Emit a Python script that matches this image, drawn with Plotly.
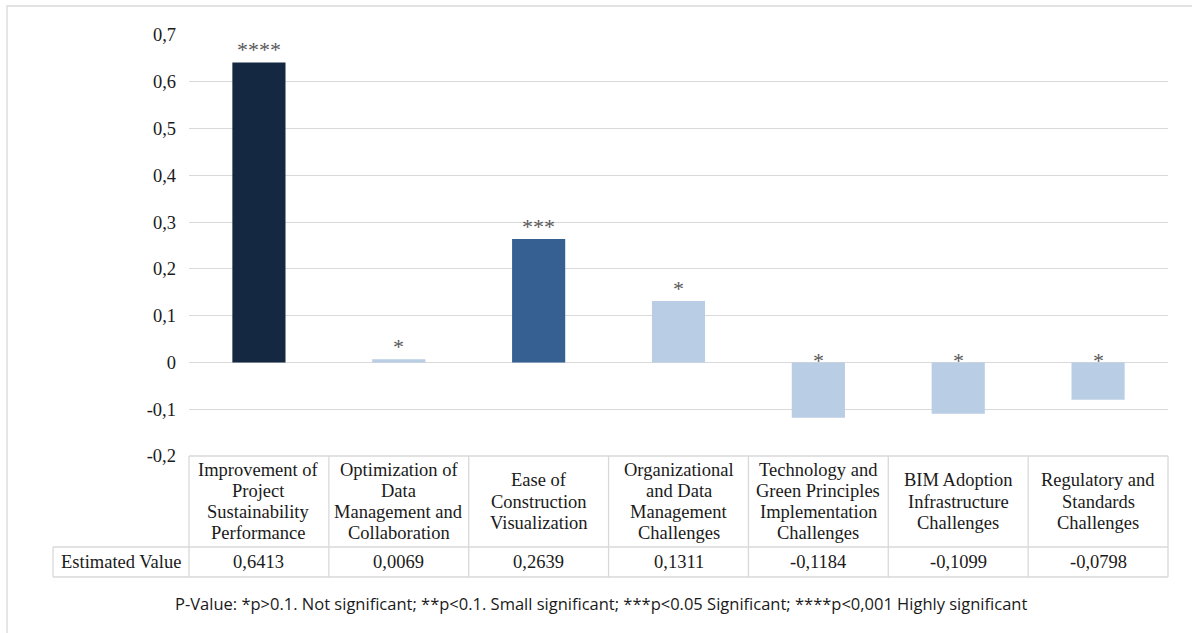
import plotly.graph_objects as go

# Factors and their estimated values
categories = [
    "Improvement of Project Sustainability Performance",
    "Optimization of Data Management and Collaboration",
    "Ease of Construction Visualization",
    "Organizational and Data Management Challenges",
    "Technology and Green Principles Implementation Challenges",
    "BIM Adoption Infrastructure Challenges",
    "Regulatory and Standards Challenges",
]
header_labels = [
    "Improvement of<br>Project<br>Sustainability<br>Performance",
    "Optimization of<br>Data<br>Management and<br>Collaboration",
    "Ease of<br>Construction<br>Visualization",
    "Organizational<br>and Data<br>Management<br>Challenges",
    "Technology and<br>Green Principles<br>Implementation<br>Challenges",
    "BIM Adoption<br>Infrastructure<br>Challenges",
    "Regulatory and<br>Standards<br>Challenges",
]
values = [0.6413, 0.0069, 0.2639, 0.1311, -0.1184, -0.1099, -0.0798]
significance = ["****", "*", "***", "*", "*", "*", "*"]

y_tick_vals = [-0.2, -0.1, 0, 0.1, 0.2, 0.3, 0.4, 0.5, 0.6, 0.7]
y_tick_text = ["-0,2", "-0,1", "0", "0,1", "0,2", "0,3", "0,4", "0,5", "0,6", "0,7"]

footnote = ("P-Value: *p>0.1. Not significant; **p<0.1. Small significant; "
            "***p<0.05 Significant; ****p<0,001 Highly significant")

# Bar colours by significance level
sig_colors = {"****": "#142841", "***": "#366092", "**": "#95B3D7", "*": "#B9CDE5"}
bar_colors = [sig_colors[s] for s in significance]

W, H = 1192, 633
ML, MR, MT, MB = 189, 24, 35, 177
PW, PH = W - ML - MR, H - MT - MB


def py(p):
    """pixel row -> paper y"""
    return (H - MB - p) / PH


def px(p):
    """pixel column -> paper x"""
    return (p - ML) / PW


serif = "Liberation Serif"
text_col = "#1A1A1A"
grid_col = "#D9D9D9"
fs = 18.5
n = len(categories)

fig = go.Figure(
    go.Bar(
        x=categories,
        y=values,
        marker=dict(color=bar_colors, line=dict(width=0)),
        hoverinfo="x+y",
    )
)

# table geometry (pixel rows / columns)
head_top, head_bottom, table_bottom, label_left = 456, 547, 577, 53
line_gap = 21.3
shapes = []
line = dict(color=grid_col, width=1.3)
# outer frame
shapes.append(dict(type="rect", xref="paper", yref="paper", x0=px(7), x1=px(W + 10),
                   y0=py(6), y1=py(H + 10), line=dict(color=grid_col, width=1.3)))
# horizontal rules of the data table
shapes.append(dict(type="line", xref="paper", yref="paper", x0=0, x1=1, y0=0, y1=0, line=line))
for row in (head_bottom, table_bottom):
    shapes.append(dict(type="line", xref="paper", yref="paper", x0=px(label_left), x1=1,
                       y0=py(row), y1=py(row), line=line))
# vertical rules: one per category boundary
for i in range(n + 1):
    shapes.append(dict(type="line", xref="paper", yref="paper", x0=i / n, x1=i / n,
                       y0=0, y1=py(table_bottom), line=line))
shapes.append(dict(type="line", xref="paper", yref="paper", x0=px(label_left), x1=px(label_left),
                   y0=py(head_bottom), y1=py(table_bottom), line=line))

annotations = []
head_mid = py((head_top + head_bottom) / 2)
value_mid = py((head_bottom + table_bottom) / 2)
for cat, lab, v, s in zip(categories, header_labels, values, significance):
    parts = lab.split("<br>")
    m = len(parts)
    for k, part in enumerate(parts):
        annotations.append(dict(x=cat, xref="x", y=head_mid, yref="paper",
                                yshift=-(k - (m - 1) / 2) * line_gap,
                                text=part, showarrow=False, yanchor="middle", xanchor="center",
                                font=dict(family=serif, size=fs, color=text_col)))
    annotations.append(dict(x=cat, xref="x", y=value_mid, yref="paper",
                            text=f"{v:.4f}".replace(".", ","), showarrow=False,
                            yanchor="middle", xanchor="center",
                            font=dict(family=serif, size=fs, color=text_col)))
    annotations.append(dict(x=cat, xref="x", y=max(v, 0), yref="y",
                            text=s, showarrow=False, yanchor="bottom", xanchor="center",
                            yshift=-2 if v > 0 else -13,
                            font=dict(family=serif, size=22, color="#595959")))

annotations.append(dict(x=px((label_left + ML) / 2), xref="paper", y=value_mid, yref="paper",
                        text="Estimated Value", showarrow=False,
                        yanchor="middle", xanchor="center",
                        font=dict(family=serif, size=fs, color=text_col)))
annotations.append(dict(x=px(601), xref="paper", y=py(603), yref="paper",
                        text=footnote, showarrow=False, yanchor="middle", xanchor="center",
                        font=dict(family="Open Sans", size=16.5, color=text_col)))

fig.update_layout(
    width=W, height=H,
    margin=dict(l=ML, r=MR, t=MT, b=MB),
    paper_bgcolor="white", plot_bgcolor="white",
    bargap=0.62,
    showlegend=False,
    shapes=shapes,
    annotations=annotations,
    xaxis=dict(range=[-0.5, n - 0.5], showticklabels=False, showgrid=False,
               zeroline=False, showline=False, fixedrange=True),
    yaxis=dict(range=[-0.2, 0.7], tickvals=y_tick_vals, ticktext=y_tick_text,
               showgrid=True, gridcolor=grid_col, gridwidth=1.3, zeroline=False,
               showline=False, ticks="", ticklabelstandoff=12,
               tickfont=dict(family=serif, size=fs, color=text_col), fixedrange=True),
)

fig.write_html("out.html")
